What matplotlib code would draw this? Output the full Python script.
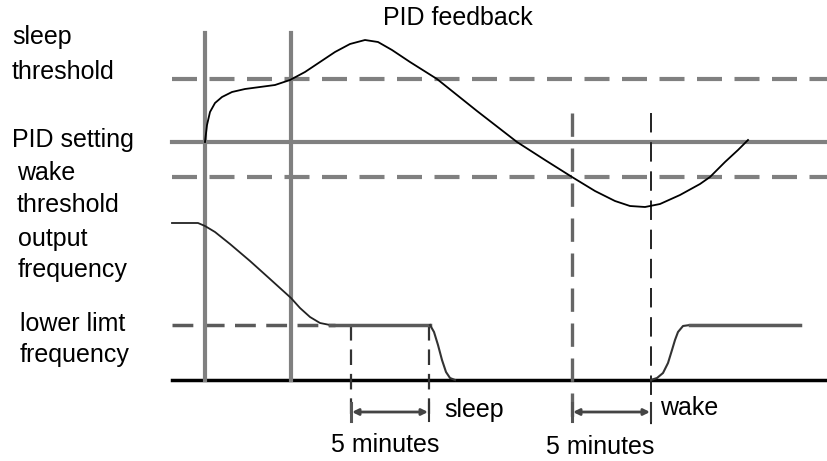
import matplotlib.pyplot as plt

plt.rcParams['font.family'] = ['Liberation Sans', 'DejaVu Sans']

# canvas coordinates (pixels, y downward)
W, H = 827, 461

# horizontal reference levels
sleep_y = 79
setting_y = 142
wake_y = 177
lower_y = 325
base_y = 380
x_left, x_right = 172, 827

# PID feedback curve
fb_x = [205, 207, 210, 215, 222, 232, 245, 260, 275, 290, 305, 320, 335, 350, 365,
        378, 392, 410, 437, 477, 517, 545, 572, 595, 615, 630, 645, 660, 680, 700,
        710, 725, 738, 748]
fb_y = [142, 125, 112, 103, 97, 92, 89, 87, 85, 80, 72, 62, 52, 44, 40,
        42, 50, 62, 79, 111, 142, 160, 177, 191, 201, 206, 207, 204, 195, 184,
        177, 162, 150, 140]

# output frequency curve
out_x = [172, 198, 205, 215, 230, 250, 270, 291, 300, 310, 320, 330]
out_y = [223, 223, 226, 232, 244, 261, 279, 298, 308, 317, 323, 325]
hold_x = [330, 430]
drop_x = [430, 434, 438, 442, 446, 450, 455]
drop_y = [325, 332, 345, 360, 372, 378, 380]
rise_x = [651, 657, 663, 668, 672, 675, 678, 683, 690, 800]
rise_y = [380, 378, 373, 363, 350, 340, 332, 326, 325, 325]

# event times
solid_vx = [205, 291]
sleep_t = [351, 429]
wake_t = [572, 651]

fig = plt.figure(figsize=(W / 100, H / 100), dpi=100)
ax = fig.add_axes([0, 0, 1, 1])
ax.set_xlim(0, W)
ax.set_ylim(H, 0)
ax.axis('off')

gray = '#808080'
dgray = '#5a5a5a'

# threshold lines
ax.plot([x_left, x_right], [sleep_y, sleep_y], color=gray, lw=3, dashes=(6, 3))
ax.plot([x_left, x_right], [wake_y, wake_y], color=gray, lw=3, dashes=(6, 3))
ax.plot([x_left, x_right], [setting_y, setting_y], color=gray, lw=3)
ax.plot([x_left, 335], [lower_y, lower_y], color=dgray, lw=2.5, dashes=(6, 3))
ax.plot([x_left, x_right], [base_y, base_y], color='black', lw=2.5)

for x in solid_vx:
    ax.plot([x, x], [33, base_y], color=gray, lw=3)

# sleep interval markers
for x in sleep_t:
    ax.plot([x, x], [lower_y, 420], color='#333333', lw=1.6, dashes=(7, 4))
# wake interval markers
ax.plot([wake_t[0], wake_t[0]], [113, 425], color='#666666', lw=2.4, dashes=(7, 3.5))
ax.plot([wake_t[1], wake_t[1]], [113, 425], color='#222222', lw=1.4, dashes=(10, 5))

# curves
ax.plot(fb_x, fb_y, color='black', lw=1.3)
ax.plot(out_x, out_y, color='#222222', lw=1.3)
ax.plot(hold_x, [lower_y, lower_y], color=dgray, lw=2.5)
ax.plot(drop_x, drop_y, color='#333333', lw=1.5)
ax.plot(rise_x, rise_y, color='#333333', lw=1.5)
ax.plot(rise_x[-2:], rise_y[-2:], color=dgray, lw=2.5)

# 5 minute arrows
for (x0, x1), y in [(sleep_t, 412), (wake_t, 412)]:
    ax.annotate('', xy=(x0 + 1, y), xytext=(x1 - 1, y),
                arrowprops=dict(arrowstyle='<|-|>', color='#444444', lw=2,
                                mutation_scale=9, shrinkA=0, shrinkB=0))
    ax.plot([x1, x1], [y - 9, y + 9], color='#333333', lw=1.5)
    ax.plot([x0, x0], [y - 9, y + 9], color='#555555', lw=2.2)

fs = 18
ax.text(458, 18, 'PID feedback', fontsize=fs, ha='center', va='center')
ax.text(12, 37, 'sleep', fontsize=fs, va='center')
ax.text(12, 72, 'threshold', fontsize=fs, va='center')
ax.text(12, 140, 'PID setting', fontsize=fs, va='center')
ax.text(17, 173, 'wake', fontsize=fs, va='center')
ax.text(17, 205, 'threshold', fontsize=fs, va='center')
ax.text(18, 239, 'output', fontsize=fs, va='center')
ax.text(18, 270, 'frequency', fontsize=fs, va='center')
ax.text(20, 324, 'lower limt', fontsize=fs, va='center')
ax.text(20, 355, 'frequency', fontsize=fs, va='center')
ax.text(444, 410, 'sleep', fontsize=fs, va='center')
ax.text(660, 408, 'wake', fontsize=fs, va='center')
ax.text(385, 445, '5 minutes', fontsize=fs, ha='center', va='center')
ax.text(600, 447, '5 minutes', fontsize=fs, ha='center', va='center')

fig.savefig('out.png', dpi=100)
